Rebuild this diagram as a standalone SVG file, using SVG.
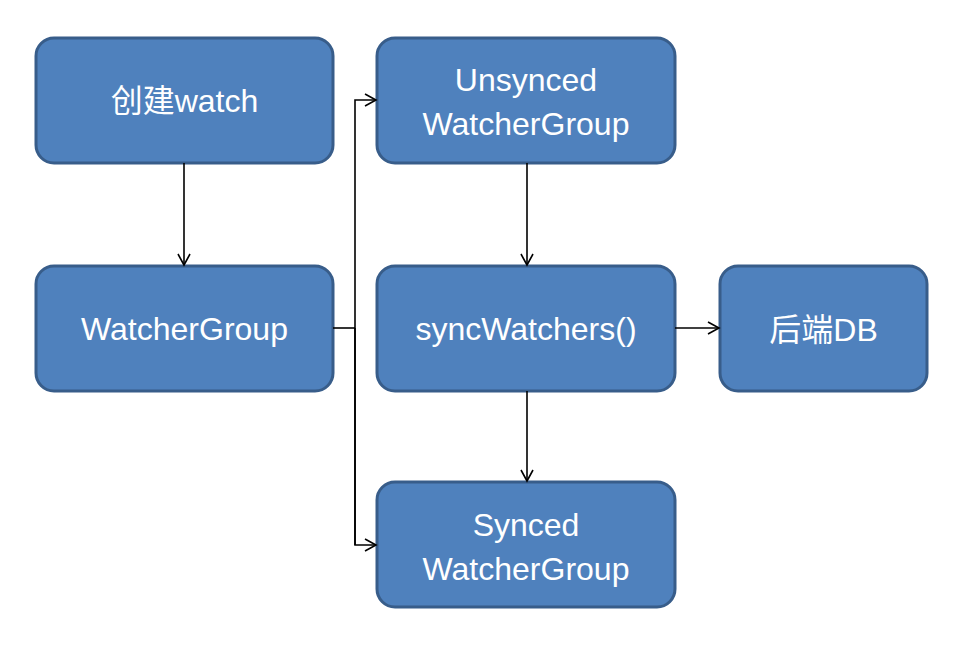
<svg xmlns="http://www.w3.org/2000/svg" width="967" height="665" viewBox="0 0 967 665">
<defs>
<marker id="arr" markerWidth="14" markerHeight="14" refX="12" refY="7" orient="auto" markerUnits="userSpaceOnUse">
<path d="M1,1 L12,7 L1,13" fill="none" stroke="#000" stroke-width="1.6"/>
</marker>
</defs>
<style>
.box{fill:#4F81BD;stroke:#385D8A;stroke-width:3}
.t{fill:#fff;font-family:"Liberation Sans","Noto Sans CJK SC",sans-serif;font-size:32px;text-anchor:middle}
.c{fill:none;stroke:#000;stroke-width:1.6}
</style>
<rect width="967" height="665" fill="#fff"/>
<g id="create">
<rect class="box" x="36" y="38" width="297" height="125" rx="18"/>
<text class="t" x="184.5" y="112">创建watch</text>
</g>
<g id="watchergroup">
<rect class="box" x="36" y="266" width="297" height="125" rx="18"/>
<text class="t" x="184.5" y="340">WatcherGroup</text>
</g>
<g id="unsynced">
<rect class="box" x="377" y="38" width="298" height="125" rx="18"/>
<text class="t" x="526" y="91">Unsynced</text>
<text class="t" x="526" y="135">WatcherGroup</text>
</g>
<g id="syncwatchers">
<rect class="box" x="377" y="266" width="298" height="125" rx="18"/>
<text class="t" x="526" y="340">syncWatchers()</text>
</g>
<g id="synced">
<rect class="box" x="377" y="482" width="298" height="125" rx="18"/>
<text class="t" x="526" y="536">Synced</text>
<text class="t" x="526" y="580">WatcherGroup</text>
</g>
<g id="db">
<rect class="box" x="720" y="266" width="207" height="125" rx="18"/>
<text class="t" x="823.5" y="341">后端DB</text>
</g>
<g id="connectors">
<path class="c" d="M184,163 L184,265" marker-end="url(#arr)"/>
<path class="c" d="M333,328 L355,328"/>
<path class="c" d="M355,545 L355,100 L376,100" marker-end="url(#arr)"/>
<path class="c" d="M355,328 L355,545 L376,545" marker-end="url(#arr)"/>
<path class="c" d="M527,163 L527,265" marker-end="url(#arr)"/>
<path class="c" d="M527,391 L527,481" marker-end="url(#arr)"/>
<path class="c" d="M675,328 L719,328" marker-end="url(#arr)"/>
</g>
</svg>
